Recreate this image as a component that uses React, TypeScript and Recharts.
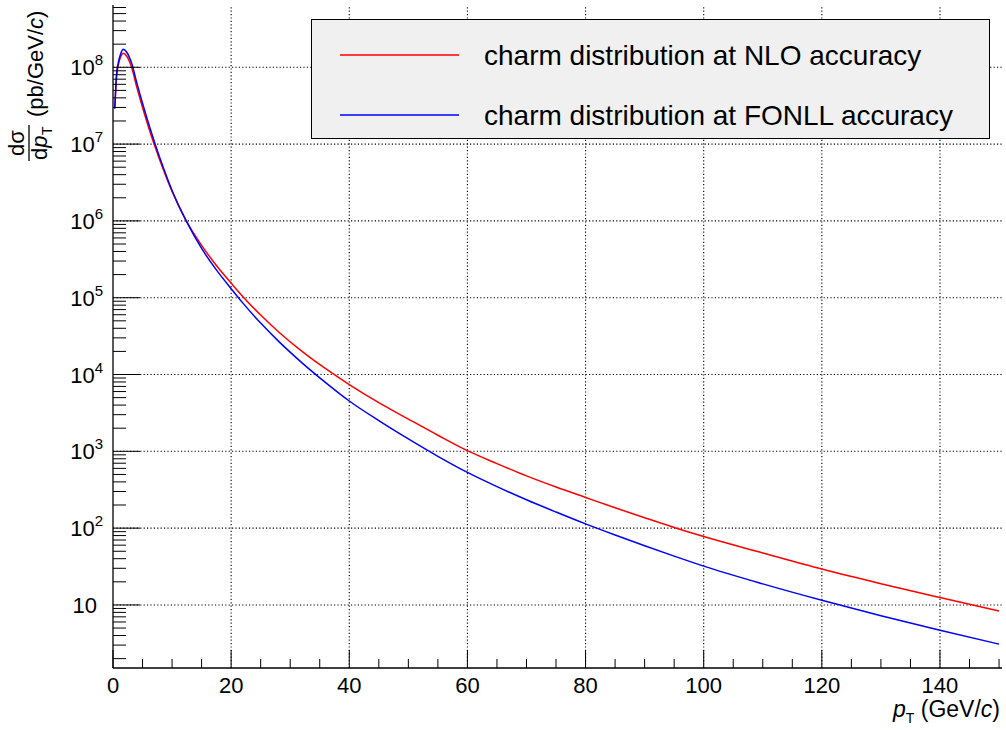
import React from "react";
import { LineChart, Line, XAxis, YAxis, ReferenceLine, Legend } from "recharts";

const FONT = "'Liberation Sans', Arial, Helvetica, sans-serif";

// pT points (GeV/c)
const ptValues = [
  0.3, 0.6, 0.9, 1.3, 1.75, 2.3, 3.2, 4, 5, 6.3, 7.1, 8.5, 10, 12.4, 15, 17.5, 20, 22, 25, 28,
  32, 36, 40, 45, 50, 55, 60, 65, 70, 75, 80, 85, 90, 95, 100, 110, 120, 130, 140, 150,
];

// dsigma/dpT (pb/GeV/c), NLO
const nloValues = [
  2.9e7, 7.5e7, 1.07e8, 1.37e8, 1.52e8, 1.4e8, 9.7e7, 5.6e7, 3.0e7, 1.42e7, 9.3e6, 4.7e6, 2.41e6,
  1.0e6, 4.8e5, 2.63e5, 1.55e5, 1.03e5, 5.94e4, 3.61e4, 2.0e4, 1.19e4, 7.4e3, 4.3e3, 2.63e3,
  1.62e3, 1.02e3, 692, 479, 343, 251, 184, 136.5, 102, 77.6, 47.5, 29.3, 18.9, 12.5, 8.36,
];

// dsigma/dpT (pb/GeV/c), FONLL
const fonllValues = [
  2.9e7, 8.0e7, 1.15e8, 1.5e8, 1.72e8, 1.58e8, 1.1e8, 6.4e7, 3.4e7, 1.58e7, 1.02e7, 4.98e6, 2.49e6,
  1.0e6, 4.38e5, 2.3e5, 1.31e5, 8.5e4, 4.67e4, 2.72e4, 1.42e4, 7.85e3, 4.52e3, 2.51e3, 1.45e3,
  861, 531, 347, 234, 162, 113.5, 81.3, 58.9, 43.2, 32.0, 18.8, 11.5, 7.24, 4.68, 3.09,
];

const seriesKeys = ["nlo", "fonll"];
const seriesNames = ["charm distribution at NLO accuracy", "charm distribution at FONLL accuracy"];
const seriesColors = ["#ff0000", "#0000ff"];

const xTicks = [
  0, 5, 10, 15, 20, 25, 30, 35, 40, 45, 50, 55, 60, 65, 70, 75, 80, 85, 90, 95, 100, 105, 110,
  115, 120, 125, 130, 135, 140, 145, 150,
];
const xLabelTicks = [0, 20, 40, 60, 80, 100, 120, 140];
const xGridTicks = [20, 40, 60, 80, 100, 120, 140];

const yDecades = [10, 100, 1e3, 1e4, 1e5, 1e6, 1e7, 1e8];
const yExponents = ["", "2", "3", "4", "5", "6", "7", "8"];

const X_DOMAIN: [number, number] = [0, 150.5];
const Y_DOMAIN: [number, number] = [1.51, 6.47e8];

// minor ticks 2..9 x 10^k inside the range, plus the decades
const yTicks: number[] = [];
for (let k = 0; k <= 8; k++) {
  for (let m = 1; m <= 9; m++) {
    const v = m * Math.pow(10, k);
    if (v >= Y_DOMAIN[0] && v <= Y_DOMAIN[1]) yTicks.push(v);
  }
}

const data = ptValues.map((pt, i) => ({ pt, nlo: nloValues[i], fonll: fonllValues[i] }));

const XTick = (props: any) => {
  const { x, y, payload } = props;
  const v = payload.value;
  const major = xLabelTicks.includes(v);
  return (
    <g>
      <line x1={x} x2={x} y1={y} y2={y - (major ? 18 : 9)} stroke="#000" strokeWidth={1} />
      {major && (
        <text x={x} y={y + 25} textAnchor="middle" fontSize={22} fontFamily={FONT} fill="#000">
          {v}
        </text>
      )}
    </g>
  );
};

const YTick = (props: any) => {
  const { x, y, payload } = props;
  const idx = yDecades.indexOf(payload.value);
  const major = idx >= 0;
  const exp = major ? yExponents[idx] : "";
  return (
    <g>
      <line x1={x} x2={x + (major ? 27 : 13)} y1={y} y2={y} stroke="#000" strokeWidth={1} />
      {major && (
        <text
          x={x - (exp ? 10 : 16)}
          y={y + 8}
          textAnchor="end"
          fontSize={22}
          fontFamily={FONT}
          fill="#000"
        >
          10
          {exp && (
            <tspan dy={-10} fontSize={15}>
              {exp}
            </tspan>
          )}
        </text>
      )}
    </g>
  );
};

const LegendBox = () => (
  <svg width={679} height={120} style={{ display: "block" }}>
    <rect x={0.5} y={0.5} width={678} height={119} fill="#f0f0f0" stroke="#000" />
    {seriesNames.map((name, i) => (
      <g key={name}>
        <line x1={29} x2={148} y1={36 + i * 60} y2={36 + i * 60} stroke={seriesColors[i]} strokeWidth={1.5} />
        <text x={173} y={46 + i * 60} fontSize={28} fontFamily={FONT} fill="#000">
          {name}
        </text>
      </g>
    ))}
  </svg>
);

export default function App() {
  return (
    <div style={{ position: "absolute", left: 0, top: 0, width: 1006, height: 730, background: "#fff" }}>
      <LineChart width={1006} height={730} data={data} margin={{ top: 5, right: 4, bottom: 0, left: 0 }}>
        <XAxis
          dataKey="pt"
          type="number"
          domain={X_DOMAIN}
          ticks={xTicks}
          interval={0}
          allowDataOverflow
          height={62}
          tickSize={0}
          tickMargin={0}
          tickLine={false}
          tick={<XTick />}
          axisLine={{ stroke: "#000", strokeWidth: 1.3 }}
        />
        <YAxis
          type="number"
          scale="log"
          domain={Y_DOMAIN}
          ticks={yTicks}
          interval={0}
          allowDataOverflow
          width={113}
          tickSize={0}
          tickMargin={0}
          tickLine={false}
          tick={<YTick />}
          axisLine={{ stroke: "#000", strokeWidth: 1.3 }}
        />
        <XAxis
          xAxisId="top"
          orientation="top"
          type="number"
          domain={X_DOMAIN}
          height={0}
          tick={false}
          tickLine={false}
          axisLine={{ stroke: "#000", strokeWidth: 1.3 }}
        />
        <YAxis
          yAxisId="right"
          orientation="right"
          type="number"
          domain={[0, 1]}
          width={0}
          tick={false}
          tickLine={false}
          axisLine={{ stroke: "#000", strokeWidth: 1.3 }}
        />
        {xGridTicks.map((v) => (
          <ReferenceLine key={"gx" + v} x={v} stroke="#000" strokeWidth={1.1} strokeDasharray="1.2 2.2" />
        ))}
        {yDecades.map((v) => (
          <ReferenceLine key={"gy" + v} y={v} stroke="#000" strokeWidth={1.1} strokeDasharray="1.2 2.2" />
        ))}
        {seriesKeys.map((key, i) => (
          <Line
            key={key}
            type="monotone"
            dataKey={key}
            name={seriesNames[i]}
            stroke={seriesColors[i]}
            strokeWidth={1.5}
            dot={false}
            isAnimationActive={false}
          />
        ))}
        <Legend
          layout="vertical"
          align="center"
          verticalAlign="middle"
          content={<LegendBox />}
          wrapperStyle={{ left: 311, top: 19, width: 679, height: 120 }}
        />
      </LineChart>

      {/* axis titles */}
      <svg
        width={1006}
        height={730}
        style={{ position: "absolute", left: 0, top: 0, pointerEvents: "none" }}
        fontFamily={FONT}
      >
        <text x={1000} y={717} textAnchor="end" fontSize={23} fill="#000">
          <tspan fontStyle="italic">p</tspan>
          <tspan fontSize={14} dy={6}>T</tspan>
          <tspan dy={-6}> (GeV/</tspan>
          <tspan fontStyle="italic">c</tspan>
          <tspan>)</tspan>
        </text>
        <g transform="translate(0,117) rotate(-90)">
          <text x={0} y={43} fontSize={22} fill="#000">
            (pb/GeV/<tspan fontStyle="italic">c</tspan>)
          </text>
          <text x={-26} y={24} textAnchor="middle" fontSize={22} fill="#000">
            dσ
          </text>
          <line x1={-44} x2={-8} y1={29} y2={29} stroke="#000" strokeWidth={1.3} />
          <text x={-43} y={47} fontSize={22} fill="#000">
            d<tspan fontStyle="italic">p</tspan>
          </text>
          <text x={-18} y={52} fontSize={14} fill="#000">
            T
          </text>
        </g>
      </svg>
    </div>
  );
}
